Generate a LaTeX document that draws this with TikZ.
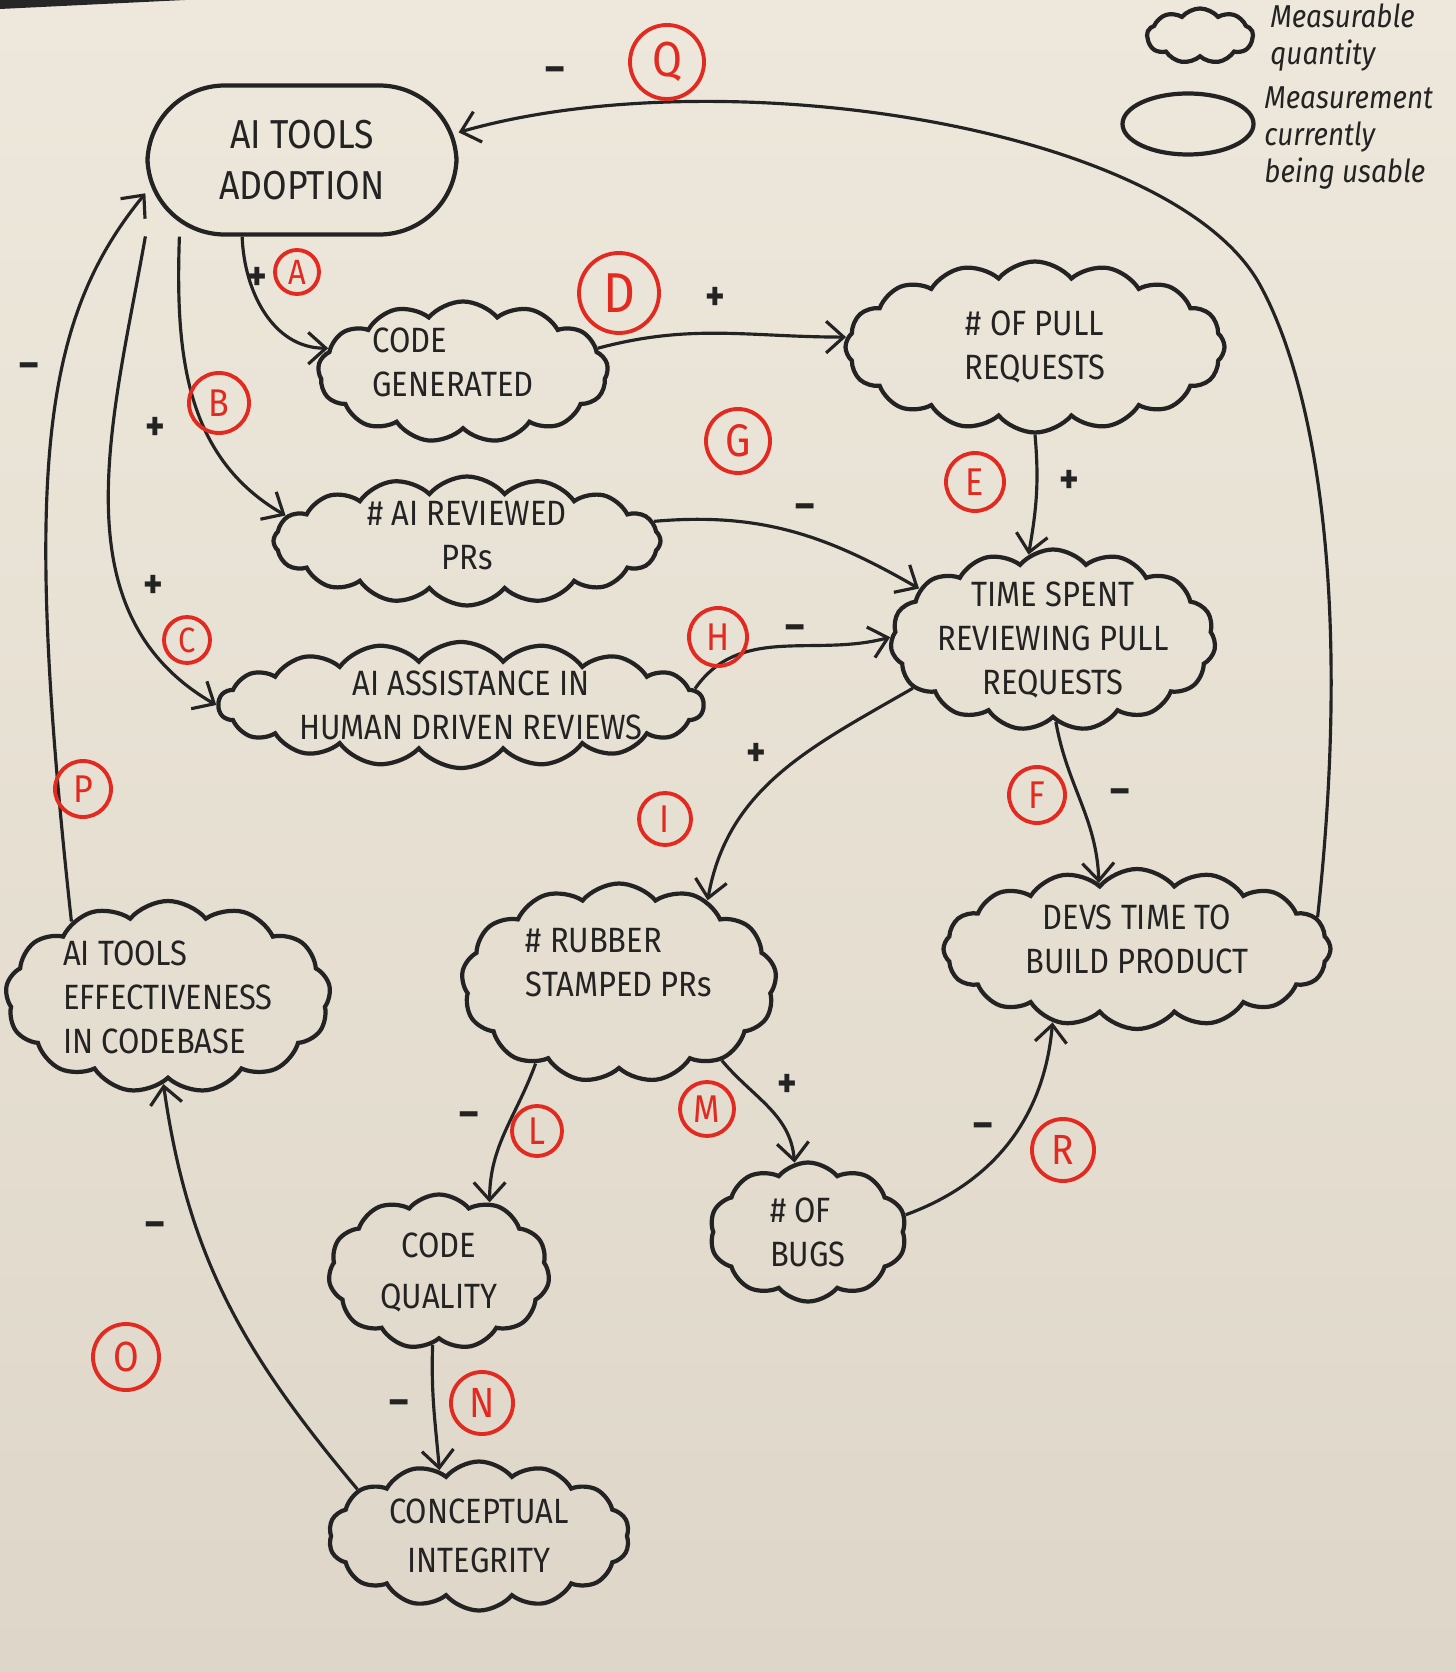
\documentclass[tikz,border=0pt]{standalone}
\usepackage{fontspec}
\setmainfont{Fira Sans}[FakeStretch=0.88]
\usepackage{tikz}
\usetikzlibrary{shapes.geometric, shapes.symbols, arrows.meta, positioning}

\definecolor{paper}{RGB}{238,232,220}
\definecolor{paperdark}{RGB}{222,215,201}
\definecolor{ink}{RGB}{35,35,35}
\definecolor{redmark}{RGB}{226,42,32}

\tikzset{
  qty/.style={cloud, draw=ink, line width=1.2pt, cloud puffs=15, cloud puff arc=100, cloud ignores aspect, inner sep=0pt},
  txt/.style={text=ink, align=center, font=\fontsize{10}{12.5}\selectfont},
  oval/.style={rectangle, rounded corners=22pt, draw=ink, line width=1.2pt},
  tag/.style={circle, draw=redmark, text=redmark, line width=1.1pt, inner sep=0pt, font=\fontsize{11}{11}\selectfont},
  sgn/.style={text=ink, font=\fontsize{12}{12}\selectfont\bfseries, inner sep=1pt},
  link/.style={draw=ink, line width=0.9pt, -{Straight Barb[length=5pt,width=9pt]}}
}

\begin{document}
\begin{tikzpicture}
    % Fondo de papel
    \useasboundingbox (0,0) rectangle (14.56,-16.72);
    \shade[top color=paper, bottom color=paperdark] (0,0) rectangle (14.56,-16.72);
    \fill[black!85] (0,0) -- (1.85,0) -- (0,-0.09) -- cycle;

    % Leyenda (arriba a la derecha)
    \node[qty, cloud puffs=9, minimum width=1.06cm, minimum height=0.55cm] (keycloud) at (12.00,-0.36) {};
    \node[ellipse, draw=ink, line width=1.2pt, minimum width=1.31cm, minimum height=0.61cm] (keyoval) at (11.88,-1.24) {};
    \node[anchor=west, align=left, text=ink, font=\fontsize{9}{10.5}\selectfont\itshape] (keyq) at (12.58,-0.38) {Measurable\\quantity};
    \node[anchor=west, align=left, text=ink, font=\fontsize{9}{10.5}\selectfont\itshape] (keym) at (12.52,-1.38) {Measurement\\currently\\being usable};

    % Variables
    \node[oval, minimum width=3.09cm, minimum height=1.49cm] (adopt) at (3.02,-1.60) {};
    \node[txt, font=\fontsize{11.5}{14.5}\selectfont] (adopt-t) at (adopt) {AI TOOLS\\ADOPTION};
    \node[qty, cloud puffs=13, minimum width=2.90cm, minimum height=1.41cm,
          label={[txt, align=left, xshift=-1mm, yshift=1mm]center:{CODE\\GENERATED}}] (codegen) at (4.63,-3.72) {};
    \node[qty, cloud puffs=16, minimum width=3.79cm, minimum height=1.71cm,
          label={[txt]center:{\# OF PULL\\REQUESTS}}] (npr) at (10.35,-3.47) {};
    \node[qty, cloud puffs=16, minimum width=3.87cm, minimum height=1.29cm,
          label={[txt, yshift=0.5mm]center:{\# AI REVIEWED\\PRs}}] (aireview) at (4.67,-5.41) {};
    \node[qty, cloud puffs=18, minimum width=4.85cm, minimum height=1.26cm,
          label={[txt, xshift=1mm]center:{AI ASSISTANCE IN\\HUMAN DRIVEN REVIEWS}}] (assist) at (4.61,-7.05) {};
    \node[qty, minimum width=3.25cm, minimum height=1.81cm,
          label={[txt]center:{TIME SPENT\\REVIEWING PULL\\REQUESTS}}] (timespent) at (10.53,-6.40) {};
    \node[qty, cloud puffs=13, minimum width=3.25cm, minimum height=1.92cm,
          label={[txt, align=left]center:{AI TOOLS\\EFFECTIVENESS\\IN CODEBASE}}] (effect) at (1.68,-9.97) {};
    \node[qty, cloud puffs=13, minimum width=3.15cm, minimum height=1.99cm,
          label={[txt, align=left, yshift=2mm]center:{\# RUBBER\\STAMPED PRs}}] (rubber) at (6.19,-9.83) {};
    \node[qty, cloud puffs=16, minimum width=3.87cm, minimum height=1.60cm,
          label={[txt, yshift=1mm]center:{DEVS TIME TO\\BUILD PRODUCT}}] (devs) at (11.37,-9.49) {};
    \node[qty, cloud puffs=11, minimum width=2.21cm, minimum height=1.55cm,
          label={[txt, font=\fontsize{10}{14.5}\selectfont]center:{CODE\\QUALITY}}] (quality) at (4.39,-12.72) {};
    \node[qty, cloud puffs=10, minimum width=1.97cm, minimum height=1.39cm,
          label={[txt, align=left]center:{\# OF\\BUGS}}] (bugs) at (8.08,-12.32) {};
    \node[qty, cloud puffs=14, minimum width=3.01cm, minimum height=1.49cm,
          label={[txt, font=\fontsize{10}{14}\selectfont]center:{CONCEPTUAL\\INTEGRITY}}] (concept) at (4.79,-15.36) {};

    % Enlaces causales
    \draw[link] (adopt.232) to[out=-88, in=180] (codegen.170);
    \draw[link] (adopt.212) to[out=-92, in=150] (aireview.172);
    \draw[link] (adopt.206) to[out=-100, in=150] (assist.180);
    \draw[link] (codegen.10) to[out=15, in=180] (npr.177);
    \draw[link] (npr.-90) to[out=-85, in=80] (timespent.106);
    \draw[link] (aireview.6) to[out=5, in=150] (timespent.159);
    \draw[link] (assist.4) to[out=55, in=195] (timespent.179);
    \draw[link] (timespent.199) to[out=210, in=80] (rubber.43);
    \draw[link] (timespent.-88) to[out=-80, in=92] (devs.120);
    \draw[link] (rubber.224) to[out=-110, in=90] (quality.54);
    \draw[link] (rubber.-37) to[out=-50, in=95] (bugs.101);
    \draw[link] (bugs.10) to[out=20, in=-95] (devs.221);
    \draw[link] (quality.-95) to[out=-92, in=95] (concept.121);
    \draw[link] (concept.159) to[out=130, in=-82] (effect.-93);
    \draw[link] (effect.142) .. controls +(-0.49,4.5) and +(-1.03,-1.26) .. (adopt.192);
    % Lazo Q: de vuelta a la adopcion
    \coordinate (qbend) at (12.6,-2.85);
    \draw[link] (devs.10) .. controls +(0.35,3.2) and +(0.55,-1.0) .. (qbend)
                .. controls +(-0.88,1.6) and +(2.6,0.75) .. (adopt.10);

    % Letras en rojo
    \node[tag, minimum size=0.74cm, font=\fontsize{14}{14}\selectfont] (tQ) at (6.67,-0.62) {Q};
    \node[tag, minimum size=0.44cm, font=\fontsize{10}{10}\selectfont] (tA) at (2.97,-2.72) {A};
    \node[tag, minimum size=0.80cm, font=\fontsize{16}{16}\selectfont] (tD) at (6.19,-2.93) {D};
    \node[tag, minimum size=0.60cm] (tB) at (2.19,-4.03) {B};
    \node[tag, minimum size=0.64cm, font=\fontsize{13}{13}\selectfont] (tG) at (7.38,-4.41) {G};
    \node[tag, minimum size=0.58cm] (tE) at (9.75,-4.82) {E};
    \node[tag, minimum size=0.46cm, font=\fontsize{10}{10}\selectfont] (tC) at (1.87,-6.40) {C};
    \node[tag, minimum size=0.58cm] (tH) at (7.18,-6.37) {H};
    \node[tag, minimum size=0.56cm] (tP) at (0.83,-7.89) {P};
    \node[tag, minimum size=0.52cm] (tI) at (6.65,-8.19) {I};
    \node[tag, minimum size=0.56cm] (tF) at (10.37,-7.95) {F};
    \node[tag, minimum size=0.54cm] (tM) at (7.07,-11.09) {M};
    \node[tag, minimum size=0.50cm] (tL) at (5.37,-11.31) {L};
    \node[tag, minimum size=0.62cm, font=\fontsize{12}{12}\selectfont] (tR) at (10.63,-11.50) {R};
    \node[tag, minimum size=0.66cm, font=\fontsize{12}{12}\selectfont] (tO) at (1.26,-13.57) {O};
    \node[tag, minimum size=0.62cm, font=\fontsize{12}{12}\selectfont] (tN) at (4.82,-14.03) {N};

    % Signos
    \node[sgn] (sQ) at (5.55,-0.75) {--};
    \node[sgn] (sA) at (2.57,-2.79) {+};
    \node[sgn] (sD) at (7.15,-2.99) {+};
    \node[sgn] (sP) at (0.29,-3.71) {--};
    \node[sgn] (sB) at (1.55,-4.29) {+};
    \node[sgn] (sE) at (10.69,-4.82) {+};
    \node[sgn] (sG) at (8.05,-5.12) {--};
    \node[sgn] (sC) at (1.53,-5.87) {+};
    \node[sgn] (sH) at (7.95,-6.33) {--};
    \node[sgn] (sI) at (7.56,-7.55) {+};
    \node[sgn] (sF) at (11.20,-7.97) {--};
    \node[sgn] (sL) at (4.69,-11.20) {--};
    \node[sgn] (sM) at (7.87,-10.86) {+};
    \node[sgn] (sR) at (9.83,-11.31) {--};
    \node[sgn] (sO) at (1.55,-12.30) {--};
    \node[sgn] (sN) at (3.99,-14.08) {--};
\end{tikzpicture}
\end{document}
